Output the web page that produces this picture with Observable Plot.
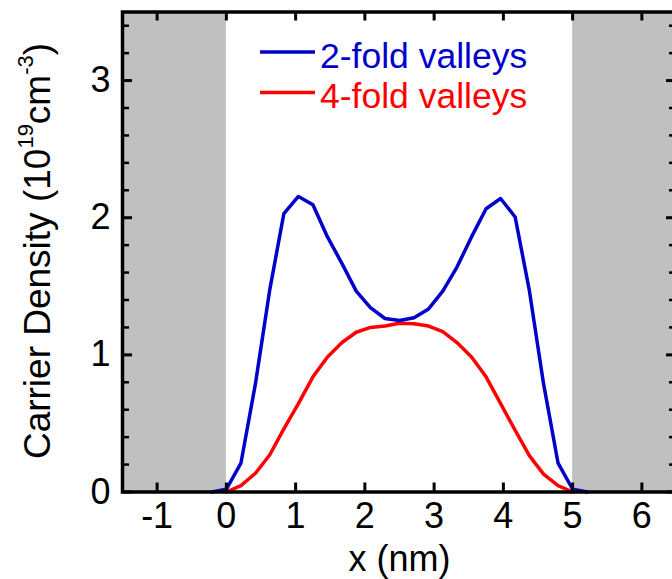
<!DOCTYPE html>
<html><head><meta charset="utf-8">
<script src="https://cdn.jsdelivr.net/npm/d3@7"></script>
<script src="https://cdn.jsdelivr.net/npm/@observablehq/plot@0.6"></script>
<style>
html,body{margin:0;padding:0;background:#fff;overflow:hidden;}
#chart{position:relative;width:672px;height:579px;overflow:hidden;}
#chart svg{max-width:none !important;}
</style></head><body><div id="chart"></div>
<script>
// ---- data ----
const xPos = [0, 0.21, 0.42, 0.625, 0.83, 1.04, 1.25, 1.46, 1.67, 1.875, 2.08, 2.29, 2.5, 2.71, 2.92, 3.125, 3.33, 3.54, 3.75, 3.96, 4.17, 4.375, 4.58, 4.79, 5.0];
const twoFold = [0.02, 0.21, 0.79, 1.47, 2.03, 2.155, 2.095, 1.86, 1.665, 1.465, 1.345, 1.265, 1.25, 1.27, 1.335, 1.465, 1.64, 1.86, 2.065, 2.14, 2.005, 1.47, 0.79, 0.21, 0.02];
const fourFold = [0, 0.047, 0.137, 0.27, 0.46, 0.645, 0.84, 0.985, 1.09, 1.165, 1.2, 1.21, 1.23, 1.227, 1.21, 1.17, 1.09, 0.985, 0.84, 0.645, 0.45, 0.265, 0.13, 0.047, 0];
const tailX = [-0.21, 5.21];
const tailY = [0, 0];
const seriesNames = ["2-fold valleys", "4-fold valleys"];
const seriesColors = ["#0000cc", "#ff0000"];
const barrierX1 = [-1.5, 5];
const barrierX2 = [0, 6.5];
const xTicks = [-1, 0, 1, 2, 3, 4, 5, 6];
const yTicks = [0, 1, 2, 3];
const yMinorTicks = [0.2, 0.4, 0.6, 0.8, 1.2, 1.4, 1.6, 1.8, 2.2, 2.4, 2.6, 2.8, 3.2, 3.4];
const xLabel = "x (nm)";

// ---- build tables ----
const twoRows = [{x: tailX[0], y: tailY[0]}, ...xPos.map((x, i) => ({x, y: twoFold[i]})), {x: tailX[1], y: tailY[1]}];
const fourRows = xPos.map((x, i) => ({x, y: fourFold[i]}));
const barriers = barrierX1.map((x1, i) => ({x1, x2: barrierX2[i]}));

const W = 690, H = 579, mL = 122, mR = 14, mT = 11.5, mB = 87.5;
const pw = W - mL - mR, ph = H - mT - mB;
const FONT = "'Liberation Sans', Arial, Helvetica, sans-serif";

const chart = Plot.plot({
  width: W, height: H,
  marginLeft: mL, marginRight: mR, marginTop: mT, marginBottom: mB,
  style: {fontFamily: FONT, fontSize: "36px", color: "black", background: "white", maxWidth: "none"},
  x: {domain: [-1.5, 6.5], label: null},
  y: {domain: [0, 3.5], label: null},
  marks: [
    Plot.rect(barriers, {x1: "x1", x2: "x2", fill: "#c0c0c0"}),
    Plot.line(fourRows, {x: "x", y: "y", stroke: seriesColors[1], strokeWidth: 3.5}),
    Plot.line(twoRows, {x: "x", y: "y", stroke: seriesColors[0], strokeWidth: 3.5}),
    Plot.ruleX(xTicks, {x: d => d, insetTop: ph - 9, stroke: "black", strokeWidth: 3}),
    Plot.ruleX(xTicks, {x: d => d, insetBottom: ph - 9, stroke: "black", strokeWidth: 3}),
    Plot.ruleY(yTicks, {y: d => d, insetRight: pw - 10, stroke: "black", strokeWidth: 3}),
    Plot.ruleY(yTicks, {y: d => d, insetLeft: pw - 10, stroke: "black", strokeWidth: 3}),
    Plot.ruleY(yMinorTicks, {y: d => d, insetRight: pw - 7, stroke: "black", strokeWidth: 2.5}),
    Plot.ruleY(yMinorTicks, {y: d => d, insetLeft: pw - 7, stroke: "black", strokeWidth: 2.5}),
    Plot.frame({stroke: "black", strokeWidth: 3.5}),
    Plot.axisX(xTicks, {tickSize: 0, tickPadding: 10, fontSize: 36, tickFormat: d => String(d), label: null}),
    Plot.axisY(yTicks, {tickSize: 0, tickPadding: 12, fontSize: 36, tickFormat: d => String(d), label: null}),
    Plot.text([xLabel], {frameAnchor: "bottom", dy: 79, fontSize: 36, fill: "black"})
  ]
});
chart.style.maxWidth = "none";
chart.setAttribute("width", W);
chart.setAttribute("height", H);

const svg = d3.select(chart);
// y-axis title with superscripts
const t = svg.append("text")
  .attr("transform", "translate(50,251) rotate(-90)")
  .attr("text-anchor", "middle")
  .attr("font-size", 37)
  .attr("fill", "black");
t.append("tspan").text("Carrier Density (10");
t.append("tspan").attr("dy", -17).attr("font-size", 22).text("19");
t.append("tspan").attr("dy", 17).text("cm");
t.append("tspan").attr("dy", -17).attr("font-size", 22).text("-3");
t.append("tspan").attr("dy", 17).text(")");

// legend
const legendRows = [{y: 52, base: 68.3}, {y: 92.5, base: 108.3}];
seriesNames.forEach((name, i) => {
  const r = legendRows[i];
  svg.append("line").attr("x1", 260).attr("x2", 315).attr("y1", r.y).attr("y2", r.y)
    .attr("stroke", seriesColors[i]).attr("stroke-width", 3.5);
  svg.append("text").attr("x", 320).attr("y", r.base).attr("font-size", 35.5)
    .attr("text-anchor", "start")
    .attr("fill", seriesColors[i]).text(name);
});

document.getElementById("chart").appendChild(chart);
</script>
</body></html>
